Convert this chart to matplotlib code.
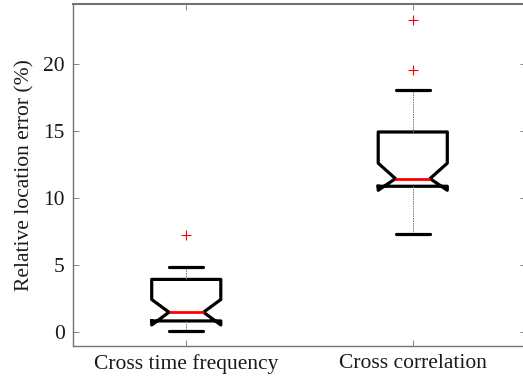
import matplotlib
matplotlib.use('Agg')
import matplotlib.pyplot as plt

# data
labels = ['Cross time frequency', 'Cross correlation']
q1 = [0.8, 10.85]
q3 = [3.9, 14.9]
med = [1.45, 11.42]
ci_lo = [0.5, 10.55]
ci_hi = [2.4, 12.57]
whisk_lo = [0.05, 7.27]
whisk_hi = [4.85, 18.0]
outliers = [[7.2], [19.5, 23.26]]
yticks = [0, 5, 10, 15, 20]

plt.rcParams['font.family'] = ['Liberation Serif', 'DejaVu Serif']

fig = plt.figure(figsize=(5.23, 3.80), dpi=100)
ax = fig.add_axes([73 / 523, 1 - 346 / 380, 453 / 523, 342 / 380])

stats = []
for i in range(len(labels)):
    stats.append(dict(label=labels[i], q1=q1[i], q3=q3[i], med=med[i],
                      cilo=ci_lo[i], cihi=ci_hi[i],
                      whislo=whisk_lo[i], whishi=whisk_hi[i],
                      fliers=outliers[i]))

ax.bxp(stats, positions=[1, 2], widths=0.305, capwidths=0.15, shownotches=True,
       boxprops=dict(color='black', linewidth=2.3, solid_joinstyle='round'),
       medianprops=dict(color='red', linewidth=2.0),
       whiskerprops=dict(color='0.45', linewidth=0.7, linestyle=(0, (1.5, 1))),
       capprops=dict(color='black', linewidth=2.3, solid_capstyle='round'),
       flierprops=dict(marker='+', markeredgecolor='red', markersize=7,
                       markeredgewidth=0.8, linestyle='none'))

ax.set_xlim(0.5, 2.5)
ax.set_ylim(-1.07, 24.45)
ax.set_yticks(yticks)
ax.set_ylabel('Relative location error (%)', fontsize=15.5, color='0.1', labelpad=6)

for s in ax.spines.values():
    s.set_color('0.45')
    s.set_linewidth(1.0)
ax.spines['top'].set_linewidth(1.5)
ax.tick_params(direction='in', length=4, width=0.6, color='0.45',
               labelsize=15.5, labelcolor='0.1', top=True, right=True, pad=6)

fig.savefig('out.png', dpi=100)
